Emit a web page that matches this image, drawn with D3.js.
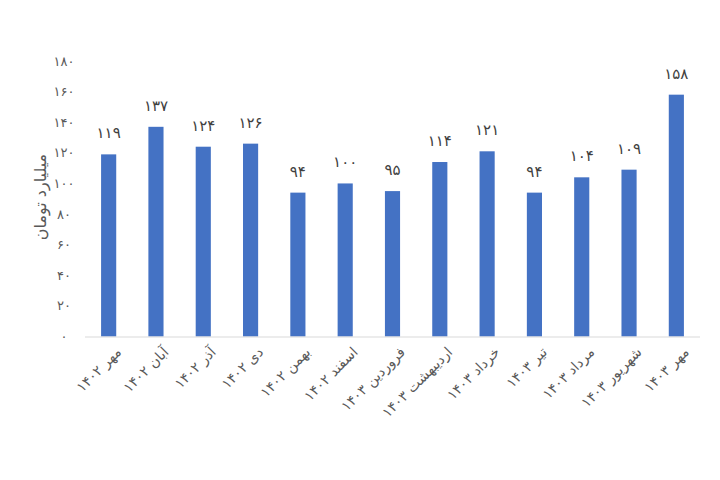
<!DOCTYPE html>
<html><head><meta charset="utf-8">
<script src="https://cdn.jsdelivr.net/npm/d3@7"></script>
<style>html,body{margin:0;padding:0;background:#fff}svg{display:block}text{font-family:"DejaVu Sans","Noto Sans",sans-serif}</style>
</head><body><svg id="c" width="720" height="480"></svg>
<script>
const categories = ["مهر ۱۴۰۲","آبان ۱۴۰۲","آذر ۱۴۰۲","دی ۱۴۰۲","بهمن ۱۴۰۲","اسفند ۱۴۰۲","فروردین ۱۴۰۳","اردیبهشت ۱۴۰۳","خرداد ۱۴۰۳","تیر ۱۴۰۳","مرداد ۱۴۰۳","شهریور ۱۴۰۳","مهر ۱۴۰۳"];
const values = [119,137,124,126,94,100,95,114,121,94,104,109,158];
const yTicks = [0,20,40,60,80,100,120,140,160,180];
const yTitle = "میلیارد تومان";

const fa = n => String(n).replace(/\d/g, d => "۰۱۲۳۴۵۶۷۸۹"[d]);
const svg = d3.select("#c");
const m = {l:85, r:700, t:61, b:336.5};
const x = d3.scaleBand().domain(categories).range([m.l, m.r]).paddingInner(0.68).paddingOuter(0.34);
const y = d3.scaleLinear().domain([0,180]).range([m.b, m.t]);

// y tick labels
svg.append("g").selectAll("text").data(yTicks).join("text")
  .attr("x", 64).attr("y", d => y(d)).attr("dy","0.35em")
  .attr("text-anchor","middle").attr("font-size",13).attr("fill","#595959")
  .text(d => fa(d));

// bars
svg.append("g").selectAll("rect").data(values).join("rect")
  .attr("x",(d,i)=>x(categories[i])).attr("width",x.bandwidth())
  .attr("y",d=>y(d)).attr("height",d=>y(0)-y(d)).attr("fill","#4472C4");

// baseline
svg.append("line").attr("x1",m.l).attr("x2",m.r).attr("y1",y(0)+0.5).attr("y2",y(0)+0.5)
  .attr("stroke","#D9D9D9").attr("stroke-width",1);

// value labels
svg.append("g").selectAll("text").data(values).join("text")
  .attr("x",(d,i)=>x(categories[i])+x.bandwidth()/2).attr("y",d=>y(d)-16)
  .attr("text-anchor","middle").attr("font-size",15).attr("fill","#404040")
  .text(d=>fa(d));

// x labels
svg.append("g").selectAll("text").data(categories).join("text")
  .attr("transform",d=>`translate(${x(d)+x.bandwidth()/2+10},${y(0)+13}) rotate(-45)`)
  .attr("text-anchor","end").attr("dy","0.35em").attr("font-size",14).attr("fill","#595959")
  .text(d=>d);

// y title
svg.append("text").attr("transform","translate(40,197) rotate(-90)")
  .attr("text-anchor","middle").attr("dy","0.35em").attr("font-size",16).attr("fill","#595959")
  .text(yTitle);
</script></body></html>
